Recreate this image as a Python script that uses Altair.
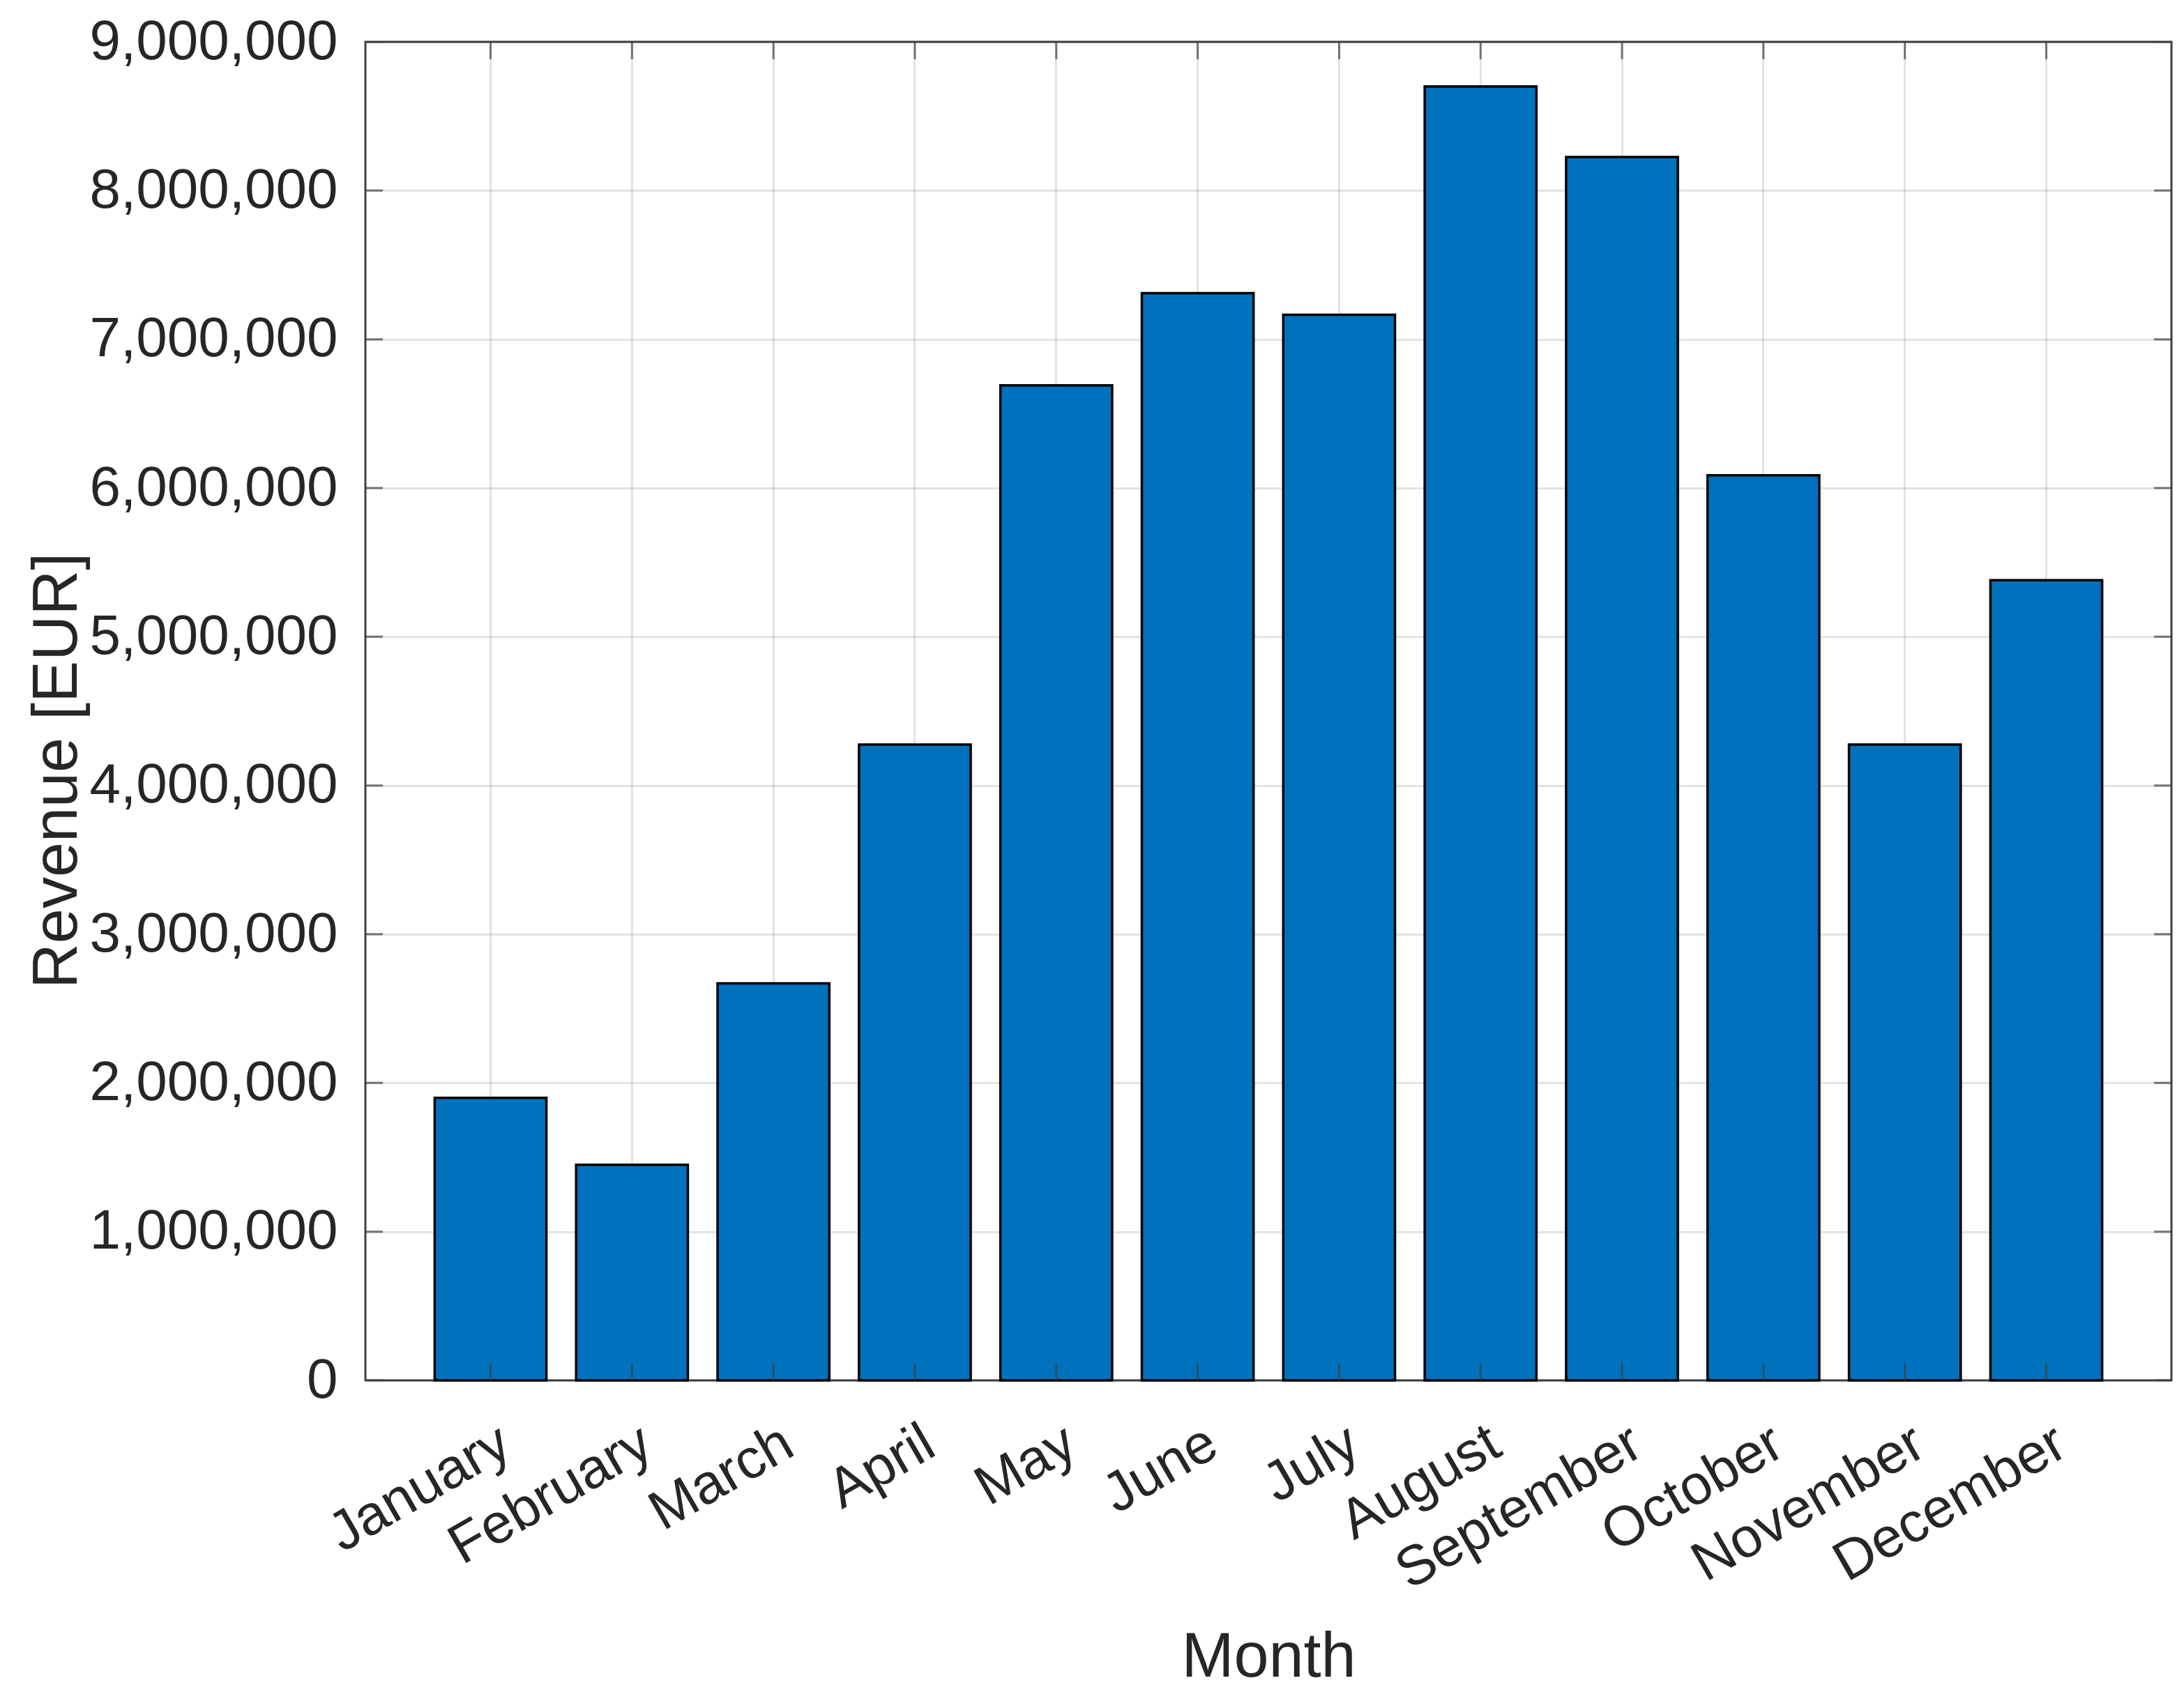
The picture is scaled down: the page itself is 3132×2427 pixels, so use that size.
import altair as alt
import pandas as pd

months = ["January", "February", "March", "April", "May", "June", "July",
          "August", "September", "October", "November", "December"]
revenue = [1900000, 1450000, 2670000, 4275000, 6690000, 7310000, 7165000,
           8700000, 8225000, 6085000, 4275000, 5380000]
y_ticks = [0, 1000000, 2000000, 3000000, 4000000, 5000000, 6000000,
           7000000, 8000000, 9000000]

df = pd.DataFrame({"Month": months, "Revenue": revenue})
xt = pd.DataFrame({"Month": months * 2, "v": [0] * 12 + [9000000] * 12})
yt = pd.DataFrame({"v": y_ticks})

W, H = 2590, 1920
FONT = "Liberation Sans"
AX = "#404040"

xscale = alt.Scale(domain=months, paddingInner=0.21, paddingOuter=0.49)
yscale = alt.Scale(domain=[0, 9000000], nice=False, zero=True)

bars = alt.Chart(df).mark_bar(
    color="#0072BD", stroke="#000000", strokeWidth=3.5
).encode(
    x=alt.X("Month:N", sort=months, scale=xscale,
            axis=alt.Axis(title="Month", labelAngle=-30, labelAlign="right",
                          labelBaseline="middle", labelPadding=84,
                          labelOffset=22,
                          titleY=424, titleBaseline="alphabetic")),
    y=alt.Y("Revenue:Q", scale=yscale,
            axis=alt.Axis(title="Revenue [EUR]", values=y_ticks, format=",d",
                          labelPadding=40, titleY=1045, titleX=-442,
                          titleAlign="center", titleBaseline="middle")),
)

xticks = alt.Chart(xt).mark_tick(
    orient="vertical", size=50, thickness=3, color=AX, clip=True
).encode(
    x=alt.X("Month:N", sort=months, scale=xscale),
    y=alt.Y("v:Q", scale=yscale),
)

yticks_l = alt.Chart(yt).mark_tick(
    orient="horizontal", size=50, thickness=3, color=AX, clip=True
).encode(
    y=alt.Y("v:Q", scale=yscale),
    x=alt.value(0),
)
yticks_r = alt.Chart(yt).mark_tick(
    orient="horizontal", size=50, thickness=3, color=AX, clip=True
).encode(
    y=alt.Y("v:Q", scale=yscale),
    x=alt.value(W),
)

chart = alt.layer(bars, xticks, yticks_l, yticks_r).properties(
    width=W, height=H,
    background="#ffffff",
    autosize=alt.AutoSizeParams(type="none"),
    padding={"left": 516, "top": 52, "right": 10, "bottom": 442},
).configure_view(
    stroke=AX, strokeWidth=3
).configure_axis(
    domain=False, ticks=False, grid=True,
    gridColor="#262626", gridOpacity=0.13, gridWidth=3,
    labelFont=FONT, labelFontSize=80, labelColor="#262626", labelLimit=0,
    labelOverlap=False,
    titleFont=FONT, titleFontSize=90, titleFontWeight="normal",
    titleColor="#262626",
)

chart.save("out.html", embed_options={"renderer": "svg", "actions": False})
